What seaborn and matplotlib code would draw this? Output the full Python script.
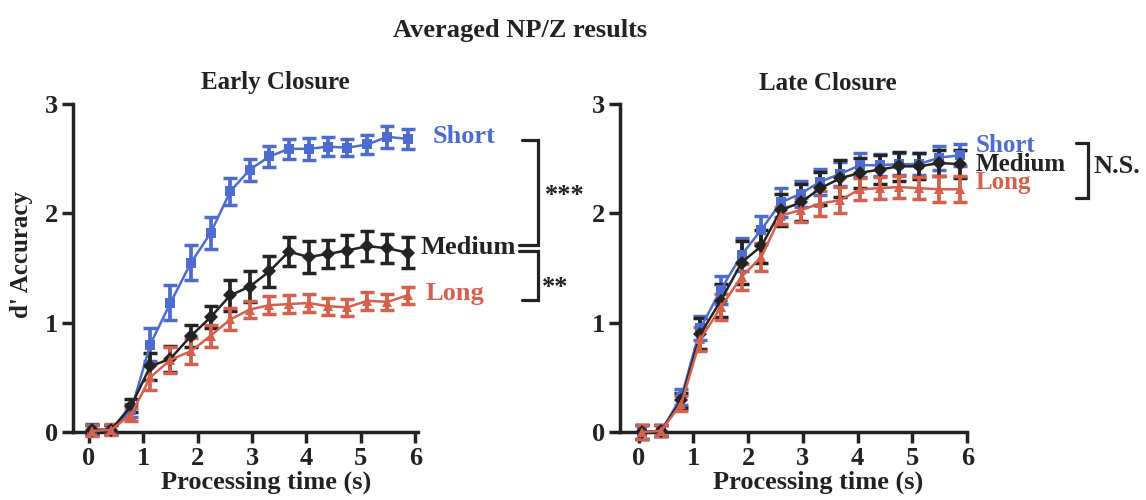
import matplotlib
matplotlib.use("Agg")
import matplotlib.pyplot as plt
import seaborn as sns
import pandas as pd

# processing time lags (s)
time_s = [0.06, 0.41, 0.78, 1.13, 1.50, 1.88, 2.24, 2.60, 2.96, 3.32, 3.68,
          4.04, 4.40, 4.75, 5.12, 5.49, 5.86]

# Early Closure
short_early = [0.02, 0.02, 0.20, 0.80, 1.18, 1.55, 1.82, 2.20, 2.40, 2.52, 2.59,
               2.59, 2.61, 2.60, 2.63, 2.70, 2.68]
short_early_err = [0.05, 0.04, 0.06, 0.15, 0.16, 0.16, 0.15, 0.12, 0.10, 0.10, 0.09,
                   0.10, 0.09, 0.08, 0.09, 0.10, 0.09]
medium_early = [0.02, 0.02, 0.24, 0.60, 0.67, 0.88, 1.05, 1.25, 1.33, 1.47, 1.65,
                1.60, 1.63, 1.66, 1.70, 1.68, 1.64]
medium_early_err = [0.04, 0.04, 0.06, 0.12, 0.12, 0.10, 0.10, 0.14, 0.14, 0.14, 0.13,
                    0.15, 0.13, 0.14, 0.14, 0.13, 0.14]
long_early = [0.01, 0.02, 0.16, 0.50, 0.66, 0.74, 0.88, 1.03, 1.12, 1.16, 1.17,
              1.18, 1.15, 1.14, 1.20, 1.19, 1.25]
long_early_err = [0.05, 0.05, 0.06, 0.12, 0.12, 0.12, 0.10, 0.10, 0.08, 0.08, 0.08,
                  0.08, 0.08, 0.08, 0.08, 0.07, 0.08]

# Late Closure
short_late = [0.00, 0.01, 0.32, 0.95, 1.30, 1.62, 1.85, 2.10, 2.18, 2.29, 2.36,
              2.44, 2.44, 2.45, 2.45, 2.51, 2.53]
short_late_err = [0.06, 0.05, 0.07, 0.11, 0.13, 0.15, 0.13, 0.13, 0.12, 0.12, 0.11,
                  0.11, 0.10, 0.10, 0.10, 0.11, 0.10]
medium_late = [0.00, 0.01, 0.29, 0.90, 1.20, 1.55, 1.70, 2.03, 2.10, 2.23, 2.32,
               2.37, 2.40, 2.43, 2.43, 2.46, 2.45]
medium_late_err = [0.06, 0.05, 0.07, 0.14, 0.15, 0.20, 0.15, 0.15, 0.17, 0.15, 0.17,
                   0.14, 0.13, 0.13, 0.12, 0.12, 0.13]
long_late = [0.00, 0.01, 0.26, 0.85, 1.14, 1.42, 1.60, 1.98, 2.03, 2.09, 2.12,
             2.22, 2.23, 2.24, 2.23, 2.22, 2.22]
long_late_err = [0.06, 0.05, 0.07, 0.11, 0.12, 0.12, 0.13, 0.08, 0.11, 0.11, 0.12,
                 0.10, 0.10, 0.10, 0.10, 0.12, 0.12]

lengths = ["Short", "Medium", "Long"]
colors = {"Short": "#4d6bd1", "Medium": "#232323", "Long": "#d5604d"}
markers = {"Short": "s", "Medium": "D", "Long": "^"}

sns.set_style("ticks")
plt.rcParams["font.family"] = ["Liberation Serif", "DejaVu Serif"]
plt.rcParams["font.weight"] = "bold"
FS = 19
INK = "#222222"


def make_df(series, errs):
    rows = []
    for name, vals, err in zip(lengths, series, errs):
        for t, v, e in zip(time_s, vals, err):
            rows.append({"time": t, "dprime": v, "sem": e, "length": name})
    return pd.DataFrame(rows)


def draw_panel(ax, df):
    for name in lengths:
        sub = df[df["length"] == name]
        ax.errorbar(sub["time"], sub["dprime"], yerr=sub["sem"], fmt="none",
                    ecolor=colors[name], elinewidth=2.7, capsize=5,
                    capthick=2.5, clip_on=False, zorder=3)
    sns.lineplot(data=df, x="time", y="dprime", hue="length", style="length",
                 hue_order=lengths, style_order=lengths, palette=colors,
                 markers=markers, dashes=False, markersize=7.5, linewidth=1.8,
                 markeredgewidth=0, legend=False, ax=ax, clip_on=False, zorder=4)
    ax.set_ylim(0, 3)
    ax.set_yticks([0, 1, 2, 3])
    ax.set_xticks([0, 1, 2, 3, 4, 5, 6])
    ax.set_xlabel("")
    ax.set_ylabel("")
    for side in ["top", "right"]:
        ax.spines[side].set_visible(False)
    for side in ["left", "bottom"]:
        ax.spines[side].set_linewidth(2.5)
        ax.spines[side].set_color(INK)
    ax.tick_params(width=2.5, length=8, color=INK, labelsize=FS,
                   labelcolor=INK, pad=3)
    for lab in ax.get_xticklabels() + ax.get_yticklabels():
        lab.set_fontweight("bold")


def bracket(ax, x0, x1, ytop, ybot, xl_top=None, xl_bot=None):
    xl_top = x0 if xl_top is None else xl_top
    xl_bot = x0 if xl_bot is None else xl_bot
    ax.plot([xl_top, x1, x1, xl_bot], [ytop, ytop, ybot, ybot], color=INK,
            lw=2.3, clip_on=False, solid_joinstyle="miter")


fig = plt.figure(figsize=(11.46, 5), dpi=100)
ax1 = fig.add_axes([0.0637, 0.136, 0.301, 0.656])
ax2 = fig.add_axes([0.541, 0.136, 0.303, 0.656])

early = make_df([short_early, medium_early, long_early],
                [short_early_err, medium_early_err, long_early_err])
late = make_df([short_late, medium_late, long_late],
               [short_late_err, medium_late_err, long_late_err])

draw_panel(ax1, early)
ax1.set_xlim(-0.29, 6.05)
draw_panel(ax2, late)
ax2.set_xlim(-0.34, 6.0)

# series labels, left
ax1.text(6.32, 2.70, "Short", color=colors["Short"], fontsize=FS, va="center")
ax1.text(6.10, 1.69, "Medium", color=colors["Medium"], fontsize=FS, va="center")
ax1.text(6.18, 1.27, "Long", color=colors["Long"], fontsize=FS, va="center")
bracket(ax1, 7.96, 8.25, 2.67, 1.71, xl_bot=7.9)
bracket(ax1, 7.96, 8.25, 1.66, 1.21, xl_top=7.9)
ax1.text(8.38, 2.16, "***", color=INK, fontsize=FS, va="center")
ax1.text(8.32, 1.32, "**", color=INK, fontsize=FS, va="center")

# series labels, right (stacked tightly, as in the original)
ax2.text(6.15, 2.62, "Short", color=colors["Short"], fontsize=FS - 1, va="center")
ax2.text(6.15, 2.45, "Medium", color=colors["Medium"], fontsize=FS - 1, va="center")
ax2.text(6.15, 2.28, "Long", color=colors["Long"], fontsize=FS - 1, va="center")
bracket(ax2, 7.98, 8.21, 2.64, 2.14)
ax2.text(8.3, 2.43, "N.S.", color=INK, fontsize=FS, va="center")

fig.text(0.454, 0.938, "Averaged NP/Z results", ha="center", va="center",
         fontsize=FS, color=INK)
fig.text(0.24, 0.834, "Early Closure", ha="center", va="center",
         fontsize=FS - 1, color=INK)
fig.text(0.7225, 0.834, "Late Closure", ha="center", va="center",
         fontsize=FS - 1, color=INK)
fig.text(0.019, 0.49, "d' Accuracy", rotation=90, ha="center", va="center",
         fontsize=FS - 1, color=INK)
fig.text(0.232, 0.036, "Processing time (s)", ha="center", va="center",
         fontsize=FS, color=INK)
fig.text(0.714, 0.036, "Processing time (s)", ha="center", va="center",
         fontsize=FS, color=INK)

fig.savefig("out.png", dpi=100)
